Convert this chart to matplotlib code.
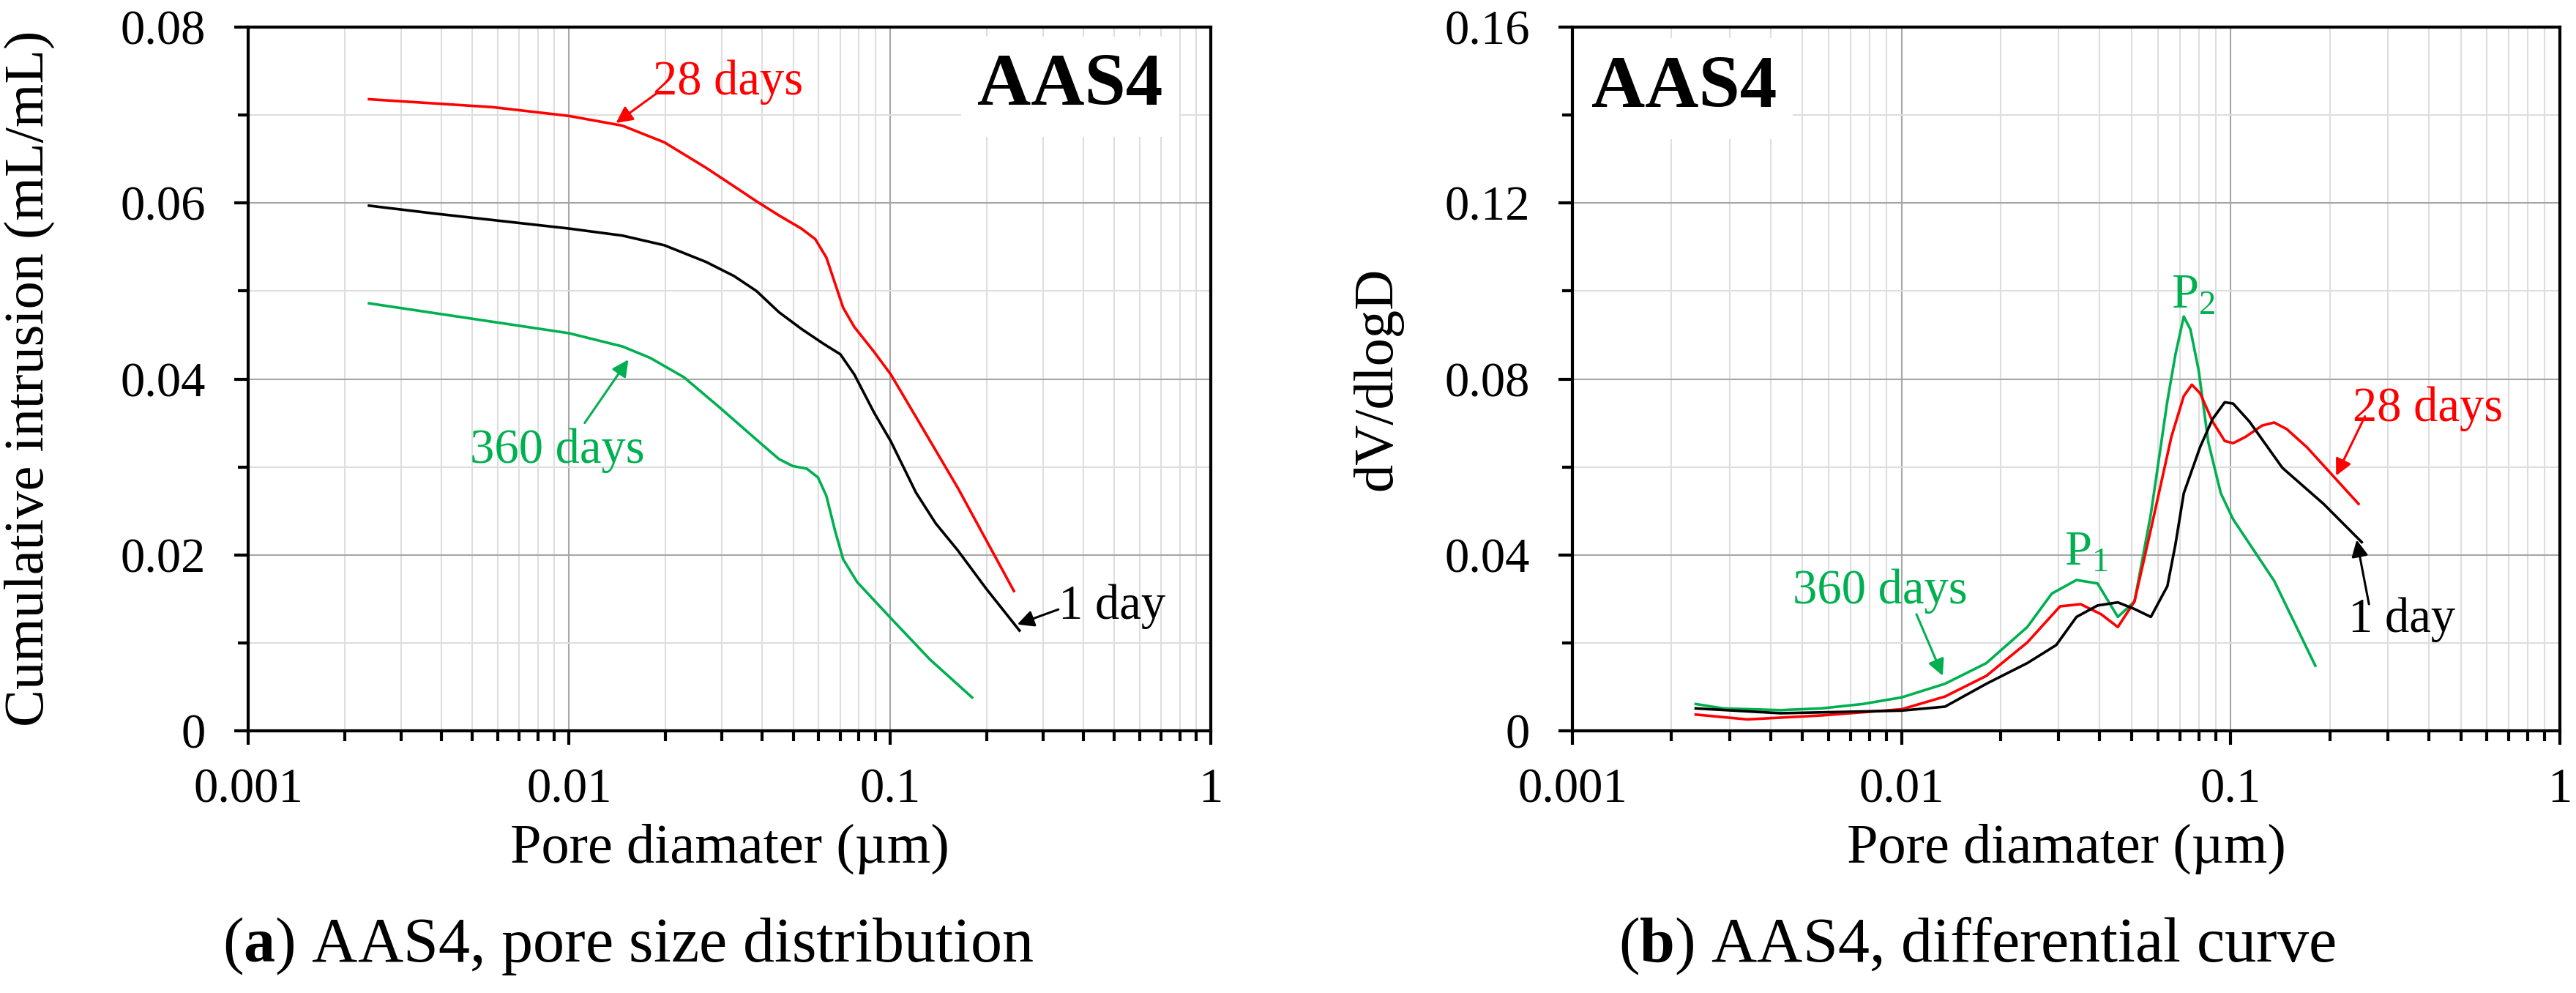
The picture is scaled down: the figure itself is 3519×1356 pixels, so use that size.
import matplotlib
matplotlib.use("Agg")
import matplotlib.pyplot as plt
from matplotlib.ticker import LogLocator, MultipleLocator, NullFormatter, FixedFormatter, FixedLocator

plt.rcParams["font.family"] = ["Liberation Serif", "DejaVu Serif"]
plt.rcParams["mathtext.fontset"] = "custom"
plt.rcParams["mathtext.rm"] = "Liberation Serif"
plt.rcParams["mathtext.it"] = "Liberation Serif:italic"
plt.rcParams["mathtext.bf"] = "Liberation Serif:bold"

RED = "#ff0000"
GREEN = "#00b050"
BLACK = "#000000"

X_TICKS = [0.001, 0.01, 0.1, 1]
X_LABELS = ["0.001", "0.01", "0.1", "1"]

# ---- (a) cumulative intrusion, mL/mL ----
cum_ticks = [0, 0.02, 0.04, 0.06, 0.08]
cum_labels = ["0", "0.02", "0.04", "0.06", "0.08"]

cum_28_x = [0.00238, 0.00578, 0.0100, 0.01466, 0.01982, 0.02675, 0.03268, 0.03838,
            0.04508, 0.05295, 0.05853, 0.0634, 0.0674, 0.0715, 0.0775, 0.0892,
            0.1007, 0.1205, 0.1629, 0.2434]
cum_28_y = [0.0718, 0.0709, 0.0699, 0.0688, 0.0669, 0.0640, 0.0619, 0.0602,
            0.0586, 0.0571, 0.0559, 0.0538, 0.0509, 0.0481, 0.0459, 0.0431,
            0.0405, 0.0357, 0.0276, 0.0159]

cum_1_x = [0.00238, 0.00382, 0.0100, 0.01466, 0.01982, 0.02675, 0.03268, 0.03838,
           0.04508, 0.05295, 0.0621, 0.0701, 0.0775, 0.0892, 0.1007, 0.1205,
           0.1388, 0.1629, 0.1992, 0.2534]
cum_1_y = [0.0597, 0.0588, 0.0571, 0.0563, 0.0552, 0.0533, 0.0517, 0.0500,
           0.0476, 0.0457, 0.0440, 0.0428, 0.0405, 0.0362, 0.0329, 0.0271,
           0.0236, 0.0205, 0.0162, 0.0114]

cum_360_x = [0.00238, 0.00578, 0.0100, 0.01466, 0.0179, 0.0228, 0.0296, 0.03838,
             0.04508, 0.0498, 0.0551, 0.0597, 0.0634, 0.0674, 0.0715, 0.0791,
             0.1007, 0.1334, 0.1803]
cum_360_y = [0.0486, 0.0465, 0.0452, 0.0437, 0.0424, 0.0402, 0.0367, 0.0331,
             0.0309, 0.0301, 0.0298, 0.0288, 0.0267, 0.0228, 0.0195, 0.0169,
             0.0128, 0.0081, 0.0038]

# ---- (b) differential curve, dV/dlogD ----
dif_ticks = [0, 0.04, 0.08, 0.12, 0.16]
dif_labels = ["0", "0.04", "0.08", "0.12", "0.16"]

dif_360_x = [0.00237, 0.00287, 0.00429, 0.00571, 0.00762, 0.0100, 0.01355, 0.0181,
             0.0241, 0.0286, 0.0340, 0.0394, 0.0454, 0.0510, 0.0572, 0.0642,
             0.0679, 0.0720, 0.0754, 0.0799, 0.0855, 0.0933, 0.1017, 0.1355, 0.1807]
dif_360_y = [0.0061, 0.0051, 0.0047, 0.0051, 0.0061, 0.0076, 0.0107, 0.0154,
             0.0236, 0.0312, 0.0343, 0.0335, 0.0259, 0.0294, 0.0493, 0.0750,
             0.0855, 0.0942, 0.0913, 0.0820, 0.0656, 0.0540, 0.0481, 0.0341, 0.0148]

dif_28_x = [0.00237, 0.0034, 0.00571, 0.0100, 0.01355, 0.0181, 0.0241, 0.0303,
            0.0350, 0.0404, 0.0454, 0.0510, 0.0572, 0.0660, 0.0720, 0.0762,
            0.0808, 0.0881, 0.0959, 0.1017, 0.1107, 0.1245, 0.1355, 0.148,
            0.1703, 0.2445]
dif_28_y = [0.0037, 0.0026, 0.0035, 0.0049, 0.0078, 0.0125, 0.0201, 0.0283,
            0.0288, 0.0265, 0.0236, 0.0294, 0.0458, 0.0668, 0.0761, 0.0787,
            0.0767, 0.0703, 0.0659, 0.0654, 0.0668, 0.0694, 0.0701, 0.0686,
            0.0645, 0.0516]

dif_1_x = [0.00237, 0.00429, 0.0100, 0.01355, 0.0181, 0.0241, 0.0295, 0.0340,
           0.0394, 0.0454, 0.0510, 0.0572, 0.0642, 0.0679, 0.0720, 0.0807,
           0.0881, 0.0959, 0.1017, 0.1140, 0.1435, 0.1914, 0.250]
dif_1_y = [0.0051, 0.0040, 0.0046, 0.0055, 0.0107, 0.0154, 0.0195, 0.0259,
           0.0285, 0.0292, 0.0277, 0.0259, 0.0329, 0.0423, 0.0540, 0.0645,
           0.0709, 0.0747, 0.0744, 0.0703, 0.0598, 0.0516, 0.0429]

W, H, DPI = 3519, 1356, 100
fig = plt.figure(figsize=(W / DPI, H / DPI), dpi=DPI)

TICK_FS = 48
LABEL_FS = 55
ANN_FS = 48
CAP_FS = 62
LW = 2.6


def px_axes(x0, x1, y0, y1):
    return fig.add_axes([x0 / W, 1 - y1 / H, (x1 - x0) / W, (y1 - y0) / H])


def style(ax, yticks, ylabels, yminor):
    ax.set_xscale("log")
    ax.set_xlim(X_TICKS[0], X_TICKS[-1])
    ax.set_ylim(yticks[0], yticks[-1])
    ax.xaxis.set_major_locator(FixedLocator(X_TICKS))
    ax.xaxis.set_major_formatter(FixedFormatter(X_LABELS))
    ax.xaxis.set_minor_locator(LogLocator(base=10, subs=range(2, 10)))
    ax.xaxis.set_minor_formatter(NullFormatter())
    ax.yaxis.set_major_locator(FixedLocator(yticks))
    ax.yaxis.set_major_formatter(FixedFormatter(ylabels))
    ax.yaxis.set_minor_locator(MultipleLocator(yminor))
    ax.grid(which="major", color="#a6a6a6", lw=1.5)
    ax.grid(which="minor", color="#dedede", lw=1.5)
    ax.set_axisbelow(True)
    for s in ax.spines.values():
        s.set_linewidth(3)
    ax.tick_params(which="both", direction="out", width=3, labelsize=TICK_FS,
                   top=False, right=False)
    ax.tick_params(axis="x", which="major", length=14, pad=22)
    ax.tick_params(axis="x", which="minor", length=10)
    ax.tick_params(axis="y", which="major", length=14, pad=28)
    ax.tick_params(axis="y", which="minor", length=10)


def note(ax, text, color, tx, ty, tail=None, head=None):
    ax.text(tx, ty, text, color=color, fontsize=ANN_FS, ha="left", va="center")
    if tail is not None:
        ax.annotate("", xy=head, xytext=tail,
                    arrowprops=dict(arrowstyle="-|>", color=color, lw=2.2,
                                    mutation_scale=34, shrinkA=0, shrinkB=0))


# (a)
ax1 = px_axes(339, 1654, 37, 998)
style(ax1, cum_ticks, cum_labels, 0.01)
ax1.plot(cum_28_x, cum_28_y, color=RED, lw=LW)
ax1.plot(cum_1_x, cum_1_y, color=BLACK, lw=LW)
ax1.plot(cum_360_x, cum_360_y, color=GREEN, lw=LW)
note(ax1, "28 days", RED, 0.0183, 0.0737, (0.0188, 0.0725), (0.0140, 0.0691))
note(ax1, "360 days", GREEN, 0.00492, 0.0319, (0.01119, 0.0350), (0.01531, 0.0422))
note(ax1, "1 day", BLACK, 0.335, 0.0141, (0.335, 0.0138), (0.2494, 0.0121))
ax1.text(0.71, 0.0732, "AAS4", fontsize=73, fontweight="bold", ha="right", va="center",
         bbox=dict(boxstyle="square,pad=0.22", fc="white", ec="none"), zorder=5)

# (b)
ax2 = px_axes(2148, 3497, 37, 998)
style(ax2, dif_ticks, dif_labels, 0.02)
ax2.plot(dif_360_x, dif_360_y, color=GREEN, lw=LW)
ax2.plot(dif_28_x, dif_28_y, color=RED, lw=LW)
ax2.plot(dif_1_x, dif_1_y, color=BLACK, lw=LW)
note(ax2, "360 days", GREEN, 0.00468, 0.0318, (0.0111, 0.0265), (0.01334, 0.0125))
note(ax2, "28 days", RED, 0.2344, 0.0732, (0.2557, 0.0715), (0.209, 0.0580))
note(ax2, "1 day", BLACK, 0.2278, 0.0253, (0.263, 0.0288), (0.2413, 0.0434))
note(ax2, r"P$_{1}$", GREEN, 0.0313, 0.0405)
note(ax2, r"P$_{2}$", GREEN, 0.066, 0.0989)
ax2.text(0.00114, 0.146, "AAS4", fontsize=73, fontweight="bold", ha="left", va="center",
         bbox=dict(boxstyle="square,pad=0.22", fc="white", ec="none"), zorder=5)

# axis titles and captions
fig.text(40 / W, 1 - 517 / H, "Cumulative intrusion (mL/mL)", rotation=90,
         ha="center", va="center", fontsize=LABEL_FS)
fig.text(1882 / W, 1 - 517 / H, "dV/dlogD", rotation=90,
         ha="center", va="center", fontsize=LABEL_FS)
for cx in ((339 + 1654) / 2, (2148 + 3497) / 2):
    fig.text(cx / W, 1 - 1178 / H, "Pore diamater (µm)", ha="center",
             va="baseline", fontsize=LABEL_FS)
fig.text(858 / W, 1 - 1313 / H, r"($\mathbf{a}$) AAS4, pore size distribution",
         ha="center", va="baseline", fontsize=CAP_FS)
fig.text(2701 / W, 1 - 1313 / H, r"($\mathbf{b}$) AAS4, differential curve",
         ha="center", va="baseline", fontsize=CAP_FS)

fig.savefig("out.png", dpi=DPI)
